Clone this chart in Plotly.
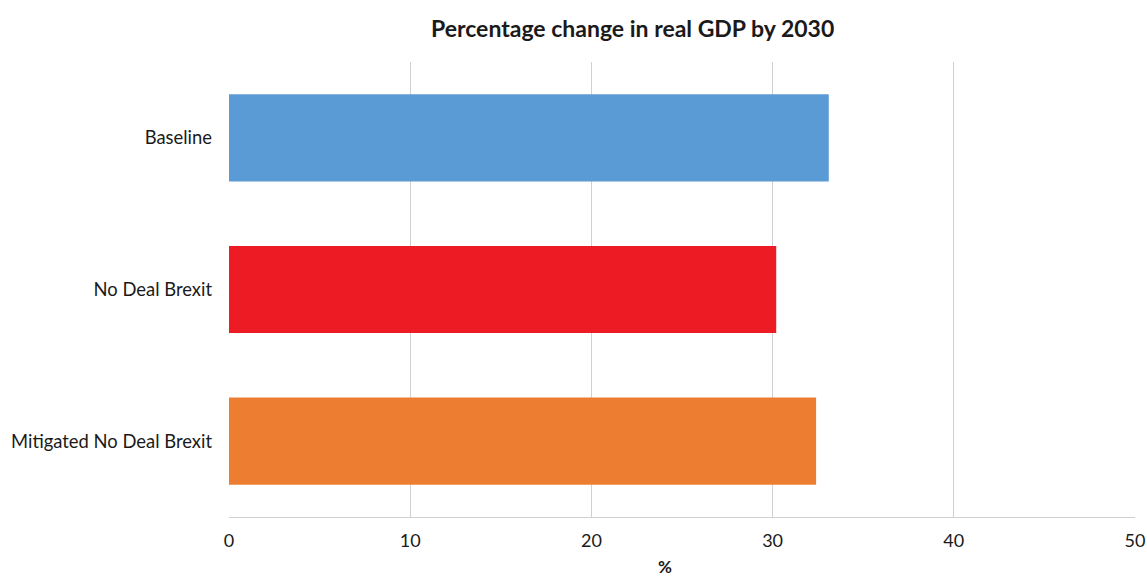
import plotly.graph_objects as go

categories = ["Baseline", "No Deal Brexit", "Mitigated No Deal Brexit"]
values = [33.1, 30.2, 32.4]
colors = ["#5B9BD5", "#ED1C24", "#ED7D31"]
x_ticks = [0, 10, 20, 30, 40, 50]

fig = go.Figure(go.Bar(
    y=categories, x=values, orientation="h",
    marker=dict(color=colors, line=dict(width=0)),
    width=0.575,
))

fig.update_layout(
    width=1147, height=577,
    margin=dict(l=229, r=12, t=62, b=60, autoexpand=False),
    plot_bgcolor="white", paper_bgcolor="white",
    font=dict(family="Lato", color="#1a1a1a", size=16),
    showlegend=False,
    xaxis=dict(range=[0, 50], tickvals=x_ticks, showgrid=True, gridcolor="#D0D0D0",
               gridwidth=1, zeroline=False, showline=True, linecolor="#D0D0D0",
               ticks="", tickfont=dict(size=18), ticklabelstandoff=7, automargin=False),
    yaxis=dict(autorange="reversed", showgrid=False, zeroline=False, showline=False,
               ticks="", tickfont=dict(size=18.4), ticklabelstandoff=16, automargin=False),
    annotations=[
        dict(text="<b>Percentage change in real GDP by 2030</b>", x=632, xref="paper",
             y=28, yref="paper", showarrow=False, font=dict(size=23, color="#1a1a1a")),
        dict(text="<b>%</b>", x=665, y=566, showarrow=False, font=dict(size=17)),
    ],
)

# convert pixel positions of annotations to paper coordinates
pw = 1147 - 229 - 12
ph = 577 - 62 - 60
for a in fig.layout.annotations:
    px, py = a.x, a.y
    a.x = (px - 229) / pw
    a.y = 1 - (py - 62) / ph
    a.xref = "paper"; a.yref = "paper"
    a.xanchor = "center"; a.yanchor = "middle"

fig.write_html("out.html")
